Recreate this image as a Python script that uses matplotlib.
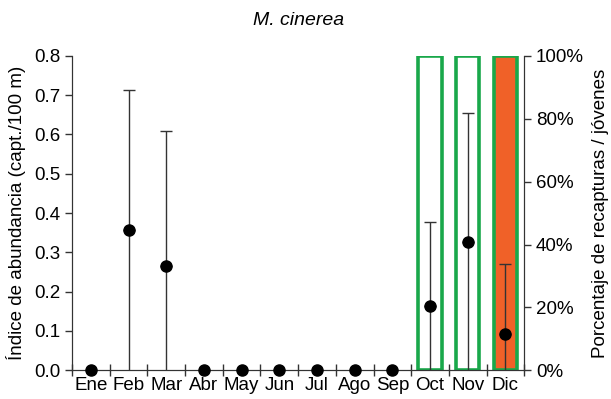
import matplotlib.pyplot as plt
import numpy as np

plt.rcParams['font.family'] = ['Liberation Sans', 'DejaVu Sans']

months = ["Ene", "Feb", "Mar", "Abr", "May", "Jun", "Jul", "Ago", "Sep", "Oct", "Nov", "Dic"]
abundance = [0.0, 0.356, 0.265, 0.0, 0.0, 0.0, 0.0, 0.0, 0.0, 0.163, 0.326, 0.092]
upper = [0.0, 0.713, 0.609, 0.0, 0.0, 0.0, 0.0, 0.0, 0.0, 0.377, 0.655, 0.270]
recaptures = [0, 0, 0, 0, 0, 0, 0, 0, 0, 100, 100, 0]
juveniles = [0, 0, 0, 0, 0, 0, 0, 0, 0, 0, 0, 100]

x = np.arange(1, len(months) + 1)
fig, ax = plt.subplots(figsize=(6.11, 3.99), dpi=100)
fig.subplots_adjust(left=0.118, right=0.858, top=0.86, bottom=0.072)

ax2 = ax.twinx()
# bars on the percentage axis, only months with a value get a box
rec = np.array(recaptures)
juv = np.array(juveniles)
ax2.bar(x[rec > 0], rec[rec > 0], width=0.62, facecolor='white', edgecolor='#19a84a', linewidth=2.6)
ax2.bar(x[juv > 0], juv[juv > 0], width=0.62, facecolor='#f06128', edgecolor='#19a84a', linewidth=2.6)
ax2.set_ylim(0, 100)
ax2.set_yticks(np.arange(0, 101, 20))
ax2.set_yticklabels([f"{v}%" for v in range(0, 101, 20)])
ax2.set_ylabel("Porcentaje de recapturas / jóvenes", fontsize=13.5, labelpad=6)

ax.set_zorder(ax2.get_zorder() + 1)
ax.patch.set_visible(False)

abundance = np.array(abundance)
up_err = np.array(upper) - abundance
has_err = up_err > 0
# lower part of the bar reaches zero without a cap, upper part has a cap
ax.errorbar(x[has_err], abundance[has_err], yerr=[abundance[has_err], np.zeros(has_err.sum())],
            fmt='none', ecolor='#333333', elinewidth=1, capsize=0)
ax.errorbar(x[has_err], abundance[has_err], yerr=[np.zeros(has_err.sum()), up_err[has_err]],
            fmt='none', ecolor='#333333', elinewidth=1, capsize=4, capthick=1)
ax.plot(x, abundance, 'o', color='black', ms=8, clip_on=False, zorder=5)

ax.set_xlim(0.5, 12.5)
ax.set_ylim(0, 0.8)
ax.set_yticks(np.arange(0, 0.81, 0.1))
ax.set_yticklabels([f"{v:.1f}" for v in np.arange(0, 0.81, 0.1)])
ax.set_xticks(np.arange(0.5, 12.6, 1))
ax.set_xticklabels([])
ax.set_xticks(x, minor=True)
ax.set_xticklabels(months, minor=True)
ax.tick_params(axis='x', which='major', direction='inout', length=8, color='#333333')
ax.tick_params(axis='x', which='minor', length=0, pad=5, labelsize=13.5)
ax.set_ylabel("Índice de abundancia (capt./100 m)", fontsize=13.5, labelpad=6)
ax.set_title("M. cinerea", fontstyle='italic', fontsize=14, pad=22)

for a in (ax, ax2):
    a.spines['top'].set_visible(False)
    a.tick_params(labelsize=13.5, color='#333333', width=1)
    for s in ('left', 'bottom', 'right'):
        a.spines[s].set_color('#333333')
ax.tick_params(axis='y', length=5)
ax2.tick_params(axis='y', length=5)

plt.savefig("out.png", dpi=100)
